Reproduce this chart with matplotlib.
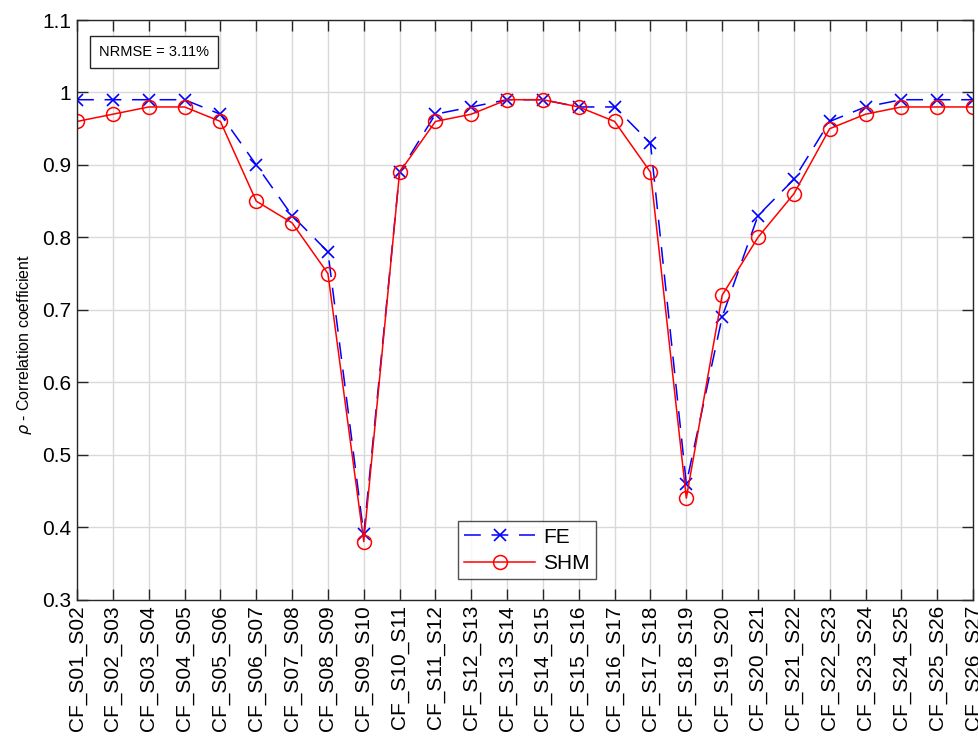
import numpy as np
import matplotlib
matplotlib.use("Agg")
import matplotlib.pyplot as plt

plt.rcParams['font.family'] = ['Liberation Sans', 'DejaVu Sans']
plt.rcParams['mathtext.fontset'] = 'dejavusans'

# pair labels along the x axis
pairs = ["CF_S%02d_S%02d" % (i, i + 1) for i in range(1, 27)]

rho_fe = [0.99, 0.99, 0.99, 0.99, 0.97, 0.90, 0.83, 0.78, 0.39, 0.89,
          0.97, 0.98, 0.99, 0.99, 0.98, 0.98, 0.93, 0.46, 0.69, 0.83,
          0.88, 0.96, 0.98, 0.99, 0.99, 0.99]
rho_shm = [0.96, 0.97, 0.98, 0.98, 0.96, 0.85, 0.82, 0.75, 0.38, 0.89,
           0.96, 0.97, 0.99, 0.99, 0.98, 0.96, 0.89, 0.44, 0.72, 0.80,
           0.86, 0.95, 0.97, 0.98, 0.98, 0.98]
nrmse = 3.11

x = np.arange(1, len(pairs) + 1)

fig = plt.figure(figsize=(9.79, 7.42), dpi=100)
ax = fig.add_axes([0.0787, 0.192, 0.9152, 0.781])

ax.plot(x, rho_fe, color="blue", linestyle=(0, (11, 7)), linewidth=1.1,
        marker="x", markersize=8.5, markeredgewidth=1.2, label="FE")
ax.plot(x, rho_shm, color="red", linestyle="-", linewidth=1.1,
        marker="o", markersize=10, markerfacecolor="none",
        markeredgewidth=1.1, label="SHM")

ax.set_xlim(1, len(pairs))
ax.set_ylim(0.3, 1.1)
ax.set_xticks(x)
ax.set_xticklabels(pairs, rotation=90, fontsize=15)
ax.set_yticks(np.arange(0.3, 1.11, 0.1))
ax.set_yticklabels(["0.3", "0.4", "0.5", "0.6", "0.7", "0.8", "0.9", "1", "1.1"],
                   fontsize=15)
ax.set_ylabel(r"$\rho$ - Correlation coefficient", fontsize=11.5)
ax.yaxis.set_label_coords(-0.048, 0.44)

ax.grid(True, color="#d9d9d9", linewidth=1.0)
ax.set_axisbelow(True)
ax.tick_params(direction="in", top=True, right=True, length=8,
               color="#262626", width=1.0, pad=4)
for s in ax.spines.values():
    s.set_color("#262626")
    s.set_linewidth(1.0)

leg = ax.legend(loc="lower left", bbox_to_anchor=(0.425, 0.035), fontsize=15,
                handlelength=3.4, frameon=True, fancybox=False,
                borderpad=0.3, labelspacing=0.35, handletextpad=0.4,
                borderaxespad=0)
leg.get_frame().set_edgecolor("#262626")
leg.get_frame().set_linewidth(1.0)

ax.text(0.0245, 0.945, "NRMSE = %.2f%%" % nrmse, transform=ax.transAxes,
        fontsize=10.5, va="center", ha="left",
        bbox=dict(boxstyle="square,pad=0.6", facecolor="white",
                  edgecolor="#262626", linewidth=1.0))

fig.savefig("out.png", dpi=100)
